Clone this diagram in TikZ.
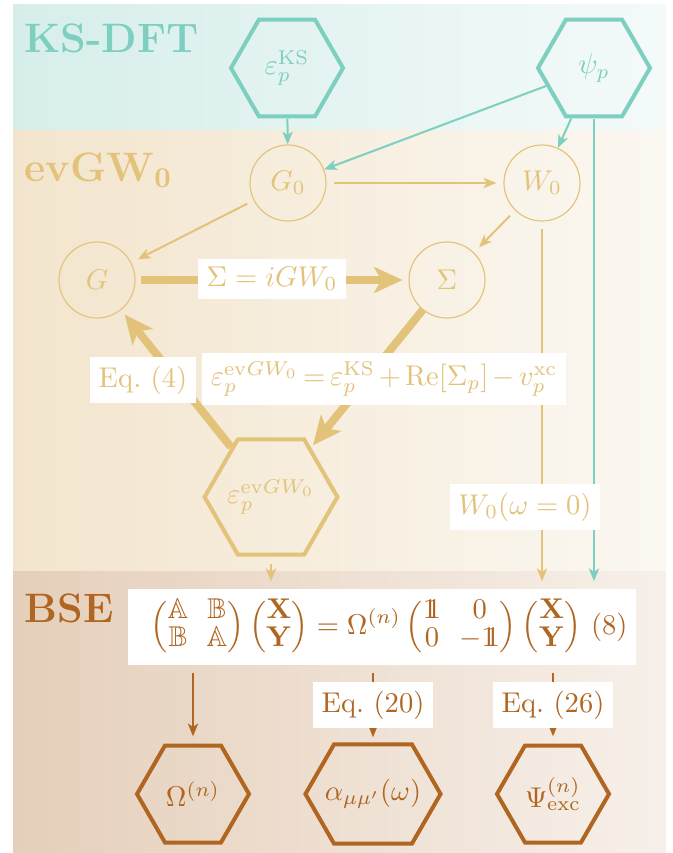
\documentclass[tikz,border=0pt]{standalone}
\usepackage{amsmath,amssymb}
\usetikzlibrary{shapes.geometric,arrows.meta}
\definecolor{tealc}{HTML}{7DCFC0}
\definecolor{goldc}{HTML}{E3C27A}
\definecolor{brownc}{HTML}{B06520}
\definecolor{topL}{HTML}{D6EEEA}
\definecolor{topR}{HTML}{F4FAFA}
\definecolor{midL}{HTML}{F3E5CD}
\definecolor{midR}{HTML}{FBF8F2}
\definecolor{botL}{HTML}{E5CFBA}
\definecolor{botR}{HTML}{F7F0EA}
\newcommand{\idone}{\mathrm{1\kern-0.36em 1}}
\begin{document}
\begin{tikzpicture}[x=0.35pt,y=-0.35pt,
  hexa/.style={regular polygon, regular polygon sides=6, draw, line width=1.4pt, inner sep=0pt, minimum size=39.2pt},
  circ/.style={circle, draw, line width=0.4pt, minimum size=26.6pt, inner sep=0pt},
  wbox/.style={fill=white, inner xsep=3pt, inner ysep=3pt},
  thinarr/.style={line width=0.7pt, -{Stealth[length=4.5pt,width=3.6pt,inset=1.2pt]}},
  thickarr/.style={line width=2.8pt, -{Stealth[length=10pt,width=9pt,inset=2.5pt]}},
  gap/.style={shorten <=2.5pt, shorten >=2.5pt},
  band/.style={font=\Large\bfseries, anchor=base west, inner sep=0pt}
]
\useasboundingbox (0,0) rectangle (673,853);
% bands
\shade[left color=topL, right color=topR] (13,4) rectangle (666,130);
\shade[left color=midL, right color=midR] (13,130) rectangle (666,571);
\shade[left color=botL, right color=botR] (13,571) rectangle (666,853);
\node[band, text=tealc] (lks) at (24,53) {KS-DFT};
\node[band, text=goldc] (lgw) at (24,181) {evGW$_{\mathbf{0}}$};
\node[band, text=brownc] (lbse) at (24,622) {BSE};

% KS-DFT nodes
\node[hexa, draw=tealc, label={[text=tealc]center:$\varepsilon_p^{\mathrm{KS}}$}] (eks) at (287,68) {};
\node[hexa, draw=tealc, label={[text=tealc]center:$\psi_p$}] (psi) at (594,68) {};

% evGW0 nodes
\node[circ, draw=goldc, text=goldc] (G0) at (288,183) {$G_0$};
\node[circ, draw=goldc, text=goldc] (W0) at (542,183) {$W_0$};
\node[circ, draw=goldc, text=goldc] (G) at (97,280) {$G$};
\node[circ, draw=goldc, text=goldc] (Sig) at (447,280) {$\Sigma$};
\node[hexa, draw=goldc, minimum size=46.5pt, label={[text=goldc]center:$\varepsilon_p^{\mathrm{ev}GW_0}$}] (egw) at (271,497) {};

% BSE nodes
\node[fill=white, inner xsep=3pt, inner ysep=2pt, text=brownc, minimum width=174pt, minimum height=26.6pt] (bse) at (382,627)
  {\setlength{\arraycolsep}{3.2pt}\renewcommand{\arraystretch}{0.8}\hspace*{5pt}$\begin{pmatrix}\mathbb{A} & \mathbb{B}\\ \mathbb{B} & \mathbb{A}\end{pmatrix}\begin{pmatrix}\mathbf{X}\\ \mathbf{Y}\end{pmatrix} = \Omega^{(n)}\begin{pmatrix}\idone & 0\\ 0 & -\idone\end{pmatrix}\begin{pmatrix}\mathbf{X}\\ \mathbf{Y}\end{pmatrix}$ (8)};
\node[hexa, draw=brownc, label={[text=brownc]center:$\Omega^{(n)}$}] (om) at (193,794) {};
\node[inner sep=0pt, minimum width=46.9pt, minimum height=34.3pt, text=brownc] (al) at (373,794) {$\alpha_{\mu\mu'}(\omega)$};
\draw[brownc, line width=1.4pt] (al.west) -- ([xshift=10pt]al.north west) -- ([xshift=-10pt]al.north east)
  -- (al.east) -- ([xshift=-10pt]al.south east) -- ([xshift=10pt]al.south west) -- cycle;
\node[hexa, draw=brownc, label={[text=brownc]center:$\Psi_{\mathrm{exc}}^{(n)}$}] (ps) at (553,794) {};

% teal connectors
\draw[thinarr, tealc] (eks) -- (G0);
\draw[thinarr, tealc] (psi) -- (G0);
\draw[thinarr, tealc] (psi) -- (W0);
\draw[thinarr, tealc, shorten >=2.5pt] (psi.south) -- (psi.south |- bse.north);

% gold thin connectors
\draw[thinarr, goldc, gap] (G0) -- (W0);
\draw[thinarr, goldc, gap] (G0) -- (G);
\draw[thinarr, goldc, gap] (W0) -- (Sig);
\draw[thinarr, goldc, gap] (W0) -- (W0 |- bse.north);
\draw[thinarr, goldc, gap] (egw) -- (egw |- bse.north);

% gold thick connectors
\draw[thickarr, goldc, shorten <=2pt, shorten >=2pt] (G) -- (Sig);
\draw[thickarr, goldc, shorten >=1pt] (Sig) -- (egw);
\draw[thickarr, goldc, shorten >=2pt] (egw) -- (G);

% brown connectors
\draw[thinarr, brownc, gap] (bse.south -| om) -- (om);
\draw[thinarr, brownc, gap] (bse.south -| al) -- (al);
\draw[thinarr, brownc, gap] (bse.south -| ps) -- (ps);

% labels on connectors
\node[wbox, text=goldc] (lsig) at (272,279) {$\Sigma = iGW_0$};
\node[wbox, text=goldc] (leq4) at (143,380) {Eq.~(4)};
\node[wbox, text=goldc] (lqp) at (384,379) {\thickmuskip=3mu\medmuskip=2.5mu$\varepsilon_p^{\mathrm{ev}GW_0} = \varepsilon_p^{\mathrm{KS}} + \mathrm{Re}[\Sigma_p] - v_p^{\mathrm{xc}}$};
\node[wbox, text=goldc] (lw0) at (525,507) {$W_0(\omega = 0)$};
\node[wbox, text=brownc] (l20) at (373,705) {Eq.~(20)};
\node[wbox, text=brownc] (l26) at (553,705) {Eq.~(26)};
\end{tikzpicture}
\end{document}
